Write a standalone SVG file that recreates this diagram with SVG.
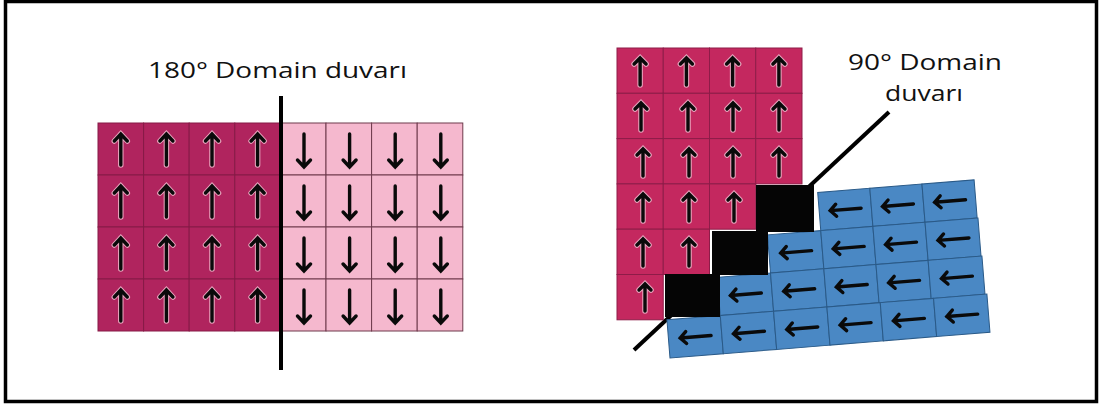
<svg xmlns="http://www.w3.org/2000/svg" xmlns:xlink="http://www.w3.org/1999/xlink" width="1099" height="410" viewBox="0 0 1099 410">
<defs>
<style>
.lbl{font-family:"Open Sans","Liberation Sans",sans-serif;font-size:22px;fill:#111}
.dk{fill:#B0245E;stroke:#861a46;stroke-width:1}
.lt{fill:#F5B8CE;stroke:#6e3a4c;stroke-width:1}
.mg{fill:#C4285F;stroke:#8e1c48;stroke-width:1}
.bl{fill:#4A88C4;stroke:#2a5a88;stroke-width:1}
.blk{fill:#050505}
.wall{stroke:#000;stroke-width:4;fill:none}
.halo{fill:none;stroke:#e9a6bf;stroke-width:5.5;stroke-linecap:round}
.ar{fill:none;stroke:#0a0a0a;stroke-width:3.4;stroke-linecap:round;stroke-linejoin:miter}
</style>
<g id="up"><path class="halo" d="M0,16V-15M-6.5,-8L0,-15L6.5,-8"/><path class="ar" d="M0,16V-15M-6.5,-8L0,-15L6.5,-8"/></g>
<g id="down"><path class="ar" d="M0,-17V16M-6.5,9L0,16L6.5,9"/></g>
<g id="upS"><path class="halo" d="M0,14V-13M-6,-7L0,-13L6,-7"/><path class="ar" d="M0,14V-13M-6,-7L0,-13L6,-7"/></g>
<g id="left"><path class="ar" d="M16,0H-15M-9,-6L-15,0L-9,6"/></g>
</defs>
<rect x="0" y="0" width="1099" height="410" fill="#fff"/>
<rect x="5.5" y="1.5" width="1091" height="400" fill="#fff" stroke="#000" stroke-width="3.5"/>

<g id="domain180">
<g id="up-domain">
<rect class="dk" x="98" y="123" width="45.6" height="52"/><rect class="dk" x="143.6" y="123" width="45.6" height="52"/><rect class="dk" x="189.2" y="123" width="45.6" height="52"/><rect class="dk" x="234.8" y="123" width="45.6" height="52"/>
<rect class="dk" x="98" y="175" width="45.6" height="52"/><rect class="dk" x="143.6" y="175" width="45.6" height="52"/><rect class="dk" x="189.2" y="175" width="45.6" height="52"/><rect class="dk" x="234.8" y="175" width="45.6" height="52"/>
<rect class="dk" x="98" y="227" width="45.6" height="52"/><rect class="dk" x="143.6" y="227" width="45.6" height="52"/><rect class="dk" x="189.2" y="227" width="45.6" height="52"/><rect class="dk" x="234.8" y="227" width="45.6" height="52"/>
<rect class="dk" x="98" y="279" width="45.6" height="52"/><rect class="dk" x="143.6" y="279" width="45.6" height="52"/><rect class="dk" x="189.2" y="279" width="45.6" height="52"/><rect class="dk" x="234.8" y="279" width="45.6" height="52"/>
<use xlink:href="#up" x="120.8" y="149"/><use xlink:href="#up" x="166.4" y="149"/><use xlink:href="#up" x="212" y="149"/><use xlink:href="#up" x="257.6" y="149"/>
<use xlink:href="#up" x="120.8" y="201"/><use xlink:href="#up" x="166.4" y="201"/><use xlink:href="#up" x="212" y="201"/><use xlink:href="#up" x="257.6" y="201"/>
<use xlink:href="#up" x="120.8" y="253"/><use xlink:href="#up" x="166.4" y="253"/><use xlink:href="#up" x="212" y="253"/><use xlink:href="#up" x="257.6" y="253"/>
<use xlink:href="#up" x="120.8" y="305"/><use xlink:href="#up" x="166.4" y="305"/><use xlink:href="#up" x="212" y="305"/><use xlink:href="#up" x="257.6" y="305"/>
</g>
<g id="down-domain">
<rect class="lt" x="280.4" y="123" width="45.6" height="52"/><rect class="lt" x="326" y="123" width="45.6" height="52"/><rect class="lt" x="371.6" y="123" width="45.6" height="52"/><rect class="lt" x="417.2" y="123" width="45.6" height="52"/>
<rect class="lt" x="280.4" y="175" width="45.6" height="52"/><rect class="lt" x="326" y="175" width="45.6" height="52"/><rect class="lt" x="371.6" y="175" width="45.6" height="52"/><rect class="lt" x="417.2" y="175" width="45.6" height="52"/>
<rect class="lt" x="280.4" y="227" width="45.6" height="52"/><rect class="lt" x="326" y="227" width="45.6" height="52"/><rect class="lt" x="371.6" y="227" width="45.6" height="52"/><rect class="lt" x="417.2" y="227" width="45.6" height="52"/>
<rect class="lt" x="280.4" y="279" width="45.6" height="52"/><rect class="lt" x="326" y="279" width="45.6" height="52"/><rect class="lt" x="371.6" y="279" width="45.6" height="52"/><rect class="lt" x="417.2" y="279" width="45.6" height="52"/>
<use xlink:href="#down" x="304" y="151"/><use xlink:href="#down" x="349.6" y="151"/><use xlink:href="#down" x="395.2" y="151"/><use xlink:href="#down" x="440.8" y="151"/>
<use xlink:href="#down" x="304" y="203"/><use xlink:href="#down" x="349.6" y="203"/><use xlink:href="#down" x="395.2" y="203"/><use xlink:href="#down" x="440.8" y="203"/>
<use xlink:href="#down" x="304" y="255"/><use xlink:href="#down" x="349.6" y="255"/><use xlink:href="#down" x="395.2" y="255"/><use xlink:href="#down" x="440.8" y="255"/>
<use xlink:href="#down" x="304" y="307"/><use xlink:href="#down" x="349.6" y="307"/><use xlink:href="#down" x="395.2" y="307"/><use xlink:href="#down" x="440.8" y="307"/>
</g>
<line id="wall180" class="wall" x1="281" y1="96" x2="281" y2="370"/>
<text class="lbl" x="148" y="78" textLength="259" lengthAdjust="spacingAndGlyphs">180° Domain duvarı</text>
</g>

<g id="domain90">
<line id="wall90" class="wall" x1="634" y1="350" x2="889" y2="112"/>
<g id="left-domain" transform="translate(670,358) rotate(-4.6)">
<rect class="bl" x="160.5" y="-153.2" width="52.3" height="38.3"/><rect class="bl" x="212.8" y="-153.2" width="52.3" height="38.3"/><rect class="bl" x="265.1" y="-153.2" width="52.3" height="38.3"/>
<rect class="bl" x="107" y="-114.9" width="53.5" height="38.3"/><rect class="bl" x="160.5" y="-114.9" width="52.3" height="38.3"/><rect class="bl" x="212.8" y="-114.9" width="52.3" height="38.3"/><rect class="bl" x="265.1" y="-114.9" width="53.1" height="38.3"/>
<rect class="bl" x="53.5" y="-76.6" width="53.5" height="38.3"/><rect class="bl" x="107" y="-76.6" width="53.5" height="38.3"/><rect class="bl" x="160.5" y="-76.6" width="52.3" height="38.3"/><rect class="bl" x="212.8" y="-76.6" width="52.3" height="38.3"/><rect class="bl" x="265.1" y="-76.6" width="54" height="38.3"/>
<rect class="bl" x="0" y="-38.3" width="53.5" height="38.3"/><rect class="bl" x="53.5" y="-38.3" width="53.5" height="38.3"/><rect class="bl" x="107" y="-38.3" width="53.5" height="38.3"/><rect class="bl" x="160.5" y="-38.3" width="53.5" height="38.3"/><rect class="bl" x="214" y="-38.3" width="53.5" height="38.3"/><rect class="bl" x="267.5" y="-38.3" width="53.5" height="38.3"/>
<use xlink:href="#left" x="186.5" y="-134"/><use xlink:href="#left" x="239" y="-134"/><use xlink:href="#left" x="291.3" y="-134"/>
<use xlink:href="#left" x="133.75" y="-95.7"/><use xlink:href="#left" x="186.5" y="-95.7"/><use xlink:href="#left" x="239" y="-95.7"/><use xlink:href="#left" x="291.6" y="-95.7"/>
<use xlink:href="#left" x="80.25" y="-57.4"/><use xlink:href="#left" x="133.75" y="-57.4"/><use xlink:href="#left" x="186.5" y="-57.4"/><use xlink:href="#left" x="239" y="-57.4"/><use xlink:href="#left" x="292" y="-57.4"/>
<use xlink:href="#left" x="26.75" y="-19.1"/><use xlink:href="#left" x="80.25" y="-19.1"/><use xlink:href="#left" x="133.75" y="-19.1"/><use xlink:href="#left" x="187.25" y="-19.1"/><use xlink:href="#left" x="240.75" y="-19.1"/><use xlink:href="#left" x="294.25" y="-19.1"/>
</g>
<g id="up-domain-90">
<rect class="mg" x="617" y="48" width="46.25" height="45.3"/><rect class="mg" x="663.25" y="48" width="46.25" height="45.3"/><rect class="mg" x="709.5" y="48" width="46.25" height="45.3"/><rect class="mg" x="755.75" y="48" width="46.25" height="45.3"/>
<rect class="mg" x="617" y="93.3" width="46.25" height="45.3"/><rect class="mg" x="663.25" y="93.3" width="46.25" height="45.3"/><rect class="mg" x="709.5" y="93.3" width="46.25" height="45.3"/><rect class="mg" x="755.75" y="93.3" width="46.25" height="45.3"/>
<rect class="mg" x="617" y="138.6" width="46.25" height="45.3"/><rect class="mg" x="663.25" y="138.6" width="46.25" height="45.3"/><rect class="mg" x="709.5" y="138.6" width="46.25" height="45.3"/><rect class="mg" x="755.75" y="138.6" width="46.25" height="45.3"/>
<rect class="mg" x="617" y="183.9" width="46.25" height="45.3"/><rect class="mg" x="663.25" y="183.9" width="46.25" height="45.3"/><rect class="mg" x="709.5" y="183.9" width="46.25" height="45.3"/>
<rect class="mg" x="617" y="229.2" width="46.25" height="45.3"/><rect class="mg" x="663.25" y="229.2" width="46.25" height="45.3"/>
<rect class="mg" x="617" y="274.5" width="46.25" height="45.3"/>
<use xlink:href="#upS" x="640.1" y="71"/><use xlink:href="#upS" x="686.4" y="71"/><use xlink:href="#upS" x="732.6" y="71"/><use xlink:href="#upS" x="778.9" y="71"/>
<use xlink:href="#upS" x="641" y="116"/><use xlink:href="#upS" x="688" y="116"/><use xlink:href="#upS" x="733" y="116"/><use xlink:href="#upS" x="779" y="116"/>
<use xlink:href="#upS" x="643" y="162"/><use xlink:href="#upS" x="689" y="162"/><use xlink:href="#upS" x="733" y="162"/><use xlink:href="#upS" x="779" y="162"/>
<use xlink:href="#upS" x="643" y="207"/><use xlink:href="#upS" x="689" y="207"/><use xlink:href="#upS" x="734" y="207"/>
<use xlink:href="#upS" x="643" y="252"/><use xlink:href="#upS" x="689" y="252"/>
<use xlink:href="#upS" x="645" y="297"/>
</g>
<g id="wall-cells">
<rect class="blk" x="756" y="185" width="58" height="47"/>
<rect class="blk" x="712" y="231" width="56" height="44"/>
<rect class="blk" x="665" y="274" width="55" height="43"/>
</g>
<text class="lbl" x="848" y="70" textLength="154" lengthAdjust="spacingAndGlyphs">90° Domain</text>
<text class="lbl" x="885" y="101" textLength="78" lengthAdjust="spacingAndGlyphs">duvarı</text>
</g>
</svg>
